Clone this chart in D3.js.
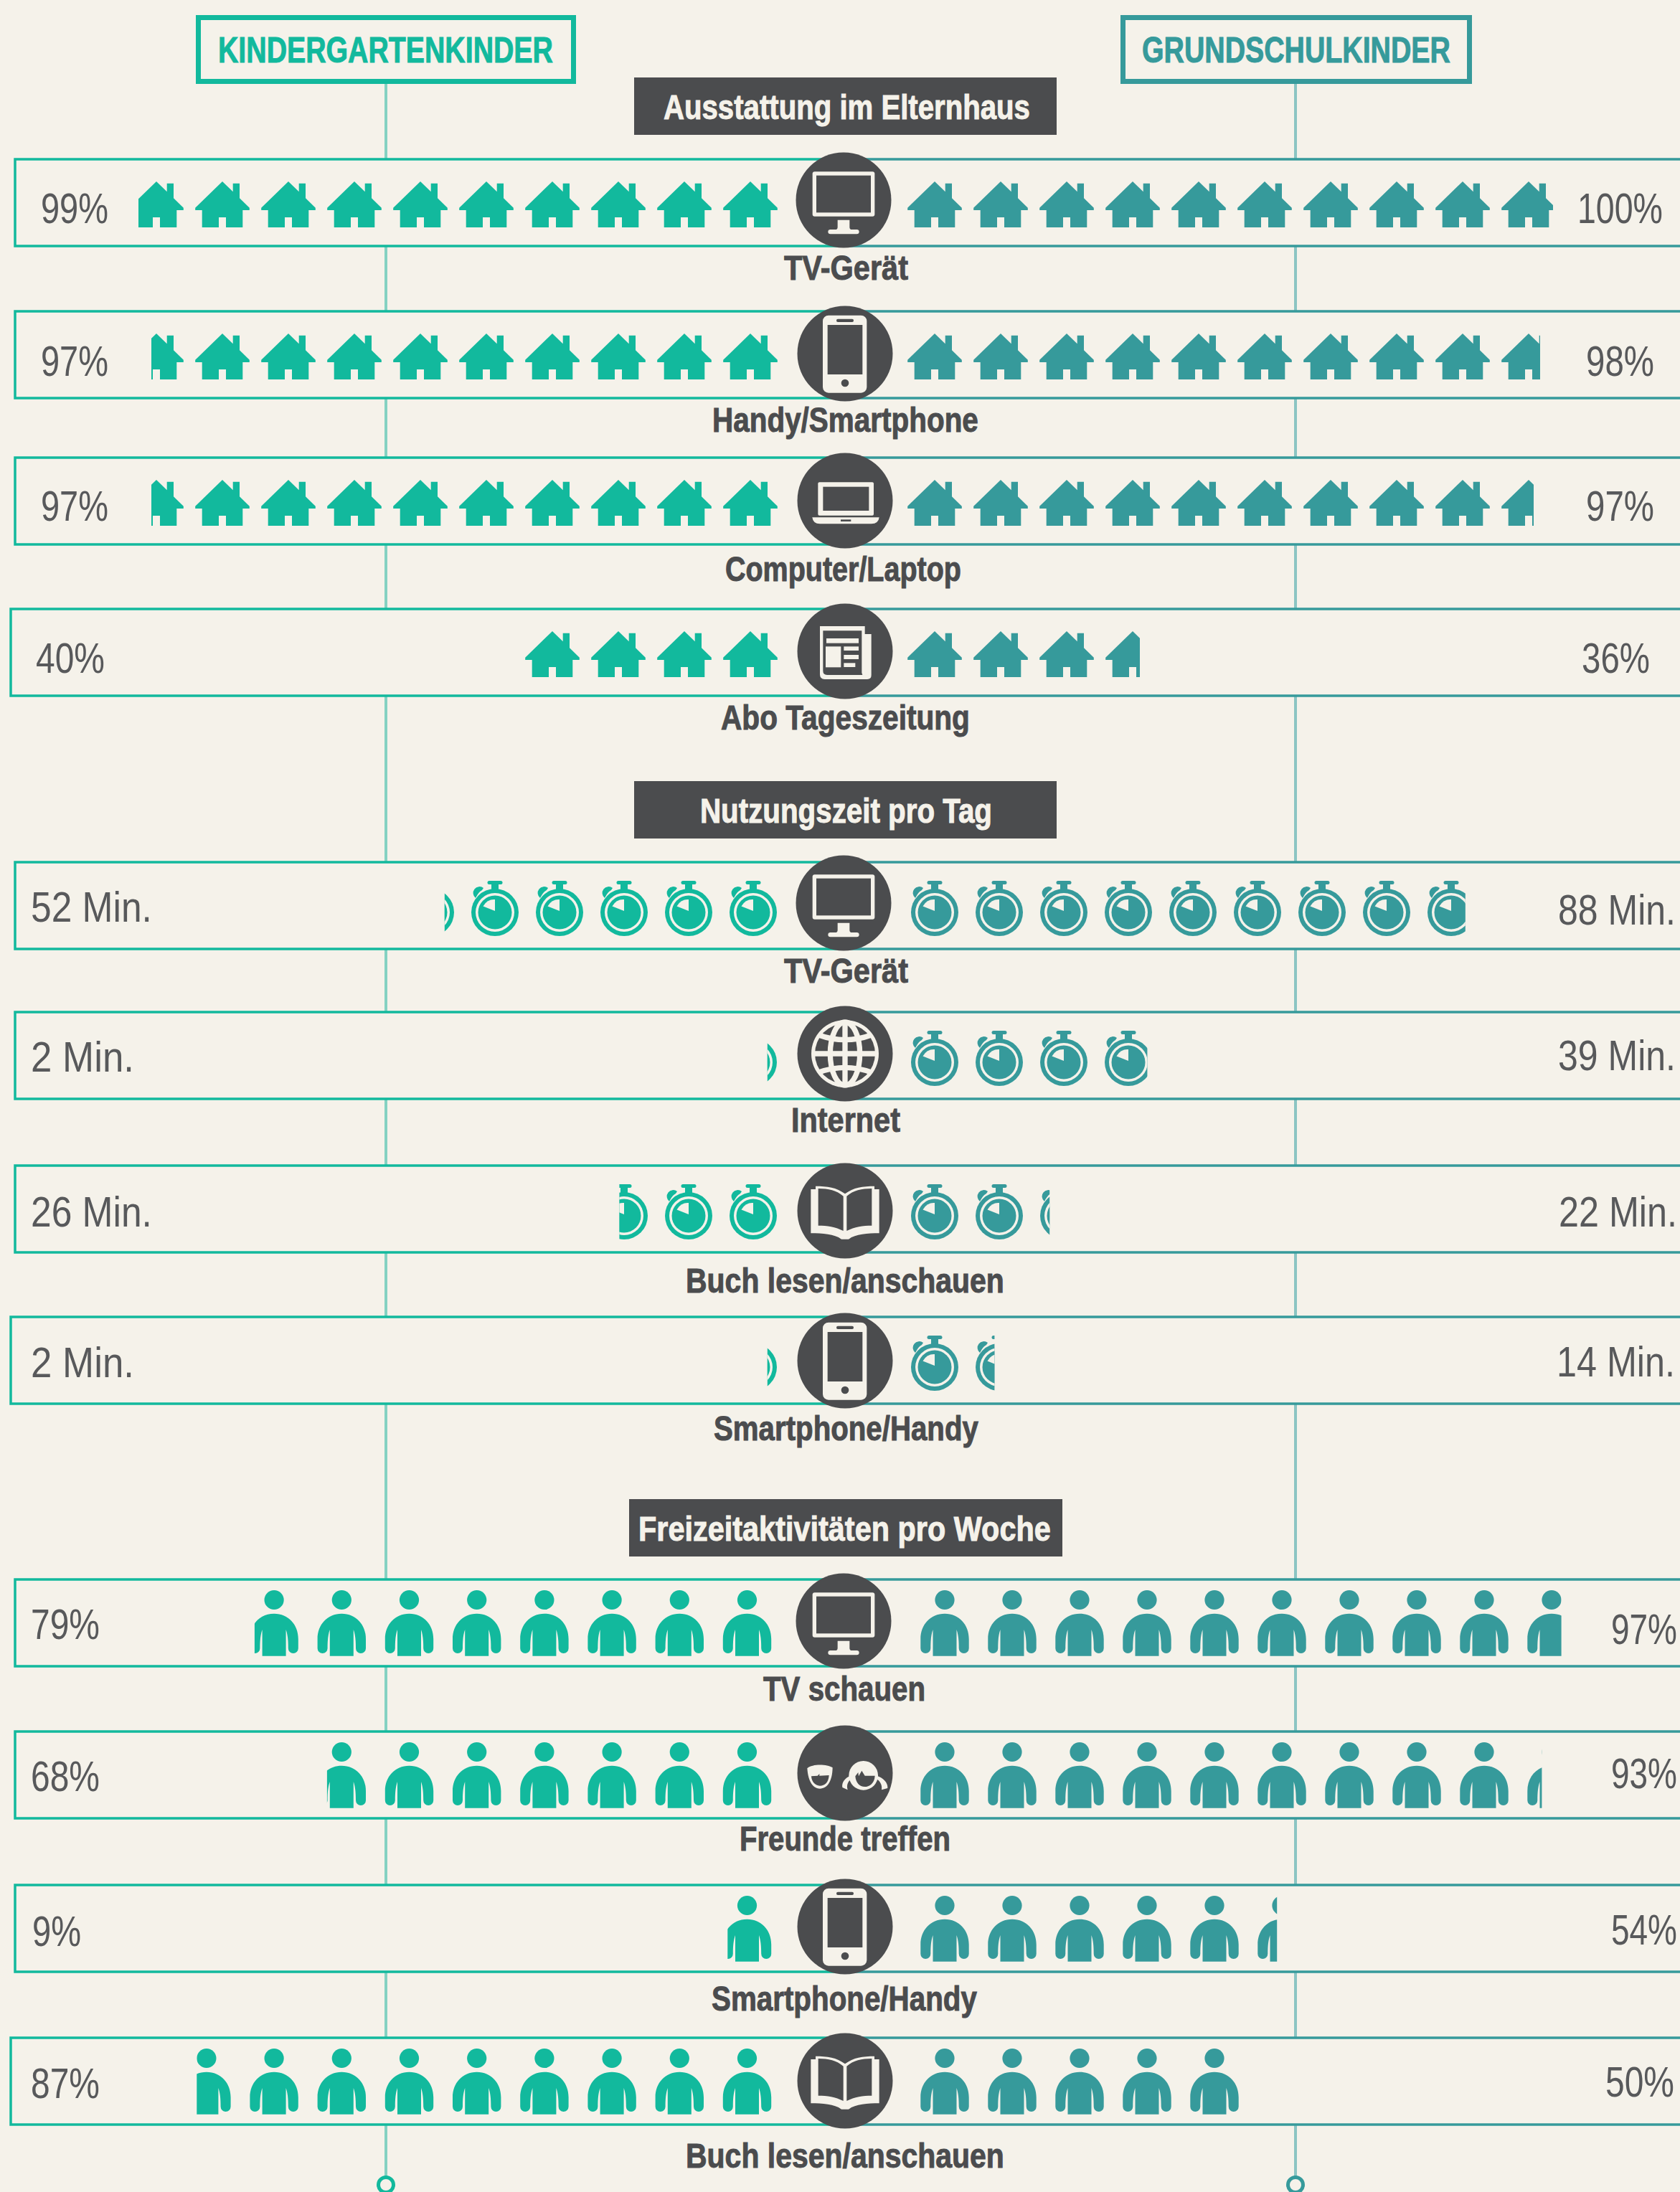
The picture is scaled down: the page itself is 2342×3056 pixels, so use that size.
<!DOCTYPE html>
<html>
<head>
<meta charset="utf-8">
<title>Kindergartenkinder / Grundschulkinder</title>
<script src="https://d3js.org/d3.v7.min.js"></script>
<style>
  body { margin: 0; background: #f5f2ea; }
  text { font-family: "Liberation Sans Narrow", "Liberation Sans", sans-serif; }
</style>
</head>
<body>
<div id="chart"></div>
<script>
// values
const rowLabels = ["TV-Gerät", "Handy/Smartphone", "Computer/Laptop", "Abo Tageszeitung",
  "TV-Gerät", "Internet", "Buch lesen/anschauen", "Smartphone/Handy",
  "TV schauen", "Freunde treffen", "Smartphone/Handy", "Buch lesen/anschauen"];
const kitaValues = [99, 97, 97, 40, 52, 2, 26, 2, 79, 68, 9, 87];
const schoolValues = [100, 98, 97, 36, 88, 39, 22, 14, 97, 93, 54, 50];
const rowUnits = ["%", "%", "%", "%", " Min.", " Min.", " Min.", " Min.", "%", "%", "%", "%"];
const rowIcons = ["tv", "phone", "laptop", "paper", "tv", "globe", "book", "phone", "tv", "faces", "phone", "book"];
const rowKinds = ["house", "house", "house", "house", "timer", "timer", "timer", "timer", "person", "person", "person", "person"];
const sectionTitles = ["Ausstattung im Elternhaus", "Nutzungszeit pro Tag", "Freizeitaktivitäten pro Woche"];
const groupTitles = ["KINDERGARTENKINDER", "GRUNDSCHULKINDER"];

// layout
const width = 2342, height = 3056;
const bg = "#f5f2ea", dark = "#4b4c4e", grey = "#58595b";
const teal = "#12b99d", blue = "#369a9b";
const rows = d3.range(rowLabels.length);
const lookup = (range) => d3.scaleOrdinal().domain(rows).range(range);

const boxTop = lookup([222, 434, 638, 849, 1202, 1411, 1625, 1836, 2202, 2414, 2628, 2841]);
const boxLeft = lookup([21, 21, 21, 15, 21, 21, 21, 15, 21, 21, 21, 15]);
const circleX = lookup([1176, 1178, 1178, 1178, 1176, 1178, 1178, 1178, 1176, 1178, 1178, 1178]);
const circleY = lookup([279, 493, 698, 908, 1259, 1469, 1688, 1897, 2260, 2472, 2686, 2901]);
const labelBase = lookup([390, 602, 810, 1017, 1370, 1578, 1802, 2008, 2371, 2580, 2803, 3022]);
const labelSpan = lookup([[1093, 1266], [993, 1364], [1011, 1340], [1005, 1352], [1093, 1266], [1103, 1255],
  [956, 1400], [995, 1364], [1064, 1290], [1031, 1325], [992, 1362], [956, 1400]]);
const leftBase = lookup([311, 524, 726, 938, 1285, 1494, 1710, 1920, 2285, 2497, 2713, 2925]);
const rightBase = lookup([311, 524, 726, 938, 1289, 1492, 1710, 1919, 2292, 2493, 2711, 2923]);
const leftSpan = lookup([[57, 151], [57, 151], [57, 151], [50, 146], [43, 212], [43, 187], [43, 212], [43, 187],
  [43, 139], [43, 139], [45, 113], [43, 139]]);
const rightSpan = lookup([[2199, 2318], [2211, 2306], [2211, 2306], [2205, 2300], [2172, 2336], [2172, 2336],
  [2173, 2338], [2170, 2335], [2246, 2338], [2246, 2338], [2246, 2338], [2238, 2334]]);

const kinds = {
  house: { unit: 10, w: 76, dy: 31, linear: true,
    left: d3.scaleLinear().domain([0, 1]).range([1046, 954]),
    right: d3.scaleLinear().domain([0, 1]).range([1303, 1395]),
    leftVal: d3.scaleLinear().domain([0, 100]).range([1084, 184]),
    rightVal: d3.scaleLinear().domain([0, 100]).range([1265, 2165]) },
  timer: { unit: 10, w: 66, dy: 26,
    left: d3.scaleLinear().domain([0, 1]).range([1050, 960]),
    right: d3.scaleLinear().domain([0, 1]).range([1303, 1393]) },
  person: { unit: 10, w: 68, dy: 15,
    left: d3.scaleLinear().domain([0, 1]).range([1041.5, 947.3]),
    right: d3.scaleLinear().domain([0, 1]).range([1317, 1411]) },
};

const houseD = "M0,0 L14.7,14.3 V2.7 H24 V23.3 L37.8,36.7 V40 H28.3 V64 H5 V50 H-5 V64 H-28.3 V40 H-37.8 V36.7 Z";
const personD = "M0,32.7 C20,32.7 33.7,48 33.7,68 V81 A7,7 0 0 1 19.7,81 C19.7,70 19,62 16.5,55 V91.7 H-16.5 V55 " +
  "C-19,62 -19.7,70 -19.7,81 A7,7 0 0 1 -33.7,81 V68 C-33.7,48 -20,32.7 0,32.7 Z";

const svg = d3.select("#chart").append("svg")
  .attr("width", width).attr("height", height)
  .style("display", "block");
svg.append("rect").attr("width", width).attr("height", height).attr("fill", bg);
const defs = svg.append("defs");

// the fonts here are wider than the print face, so squeeze each text to its span
function fitText(str, x0, x1, y, size, color, bold) {
  const t = svg.append("text").attr("font-size", size).attr("fill", color).text(str);
  if (bold) t.attr("font-weight", 700).attr("stroke", color).attr("stroke-width", 1);
  const sx = (x1 - x0) / t.node().getComputedTextLength();
  t.attr("transform", `translate(${x0},${y}) scale(${sx},1)`);
  return t;
}

// vertical connector lines with the end rings
[[538, "#85d2c2", teal], [1806, "#8cc5c3", blue]].forEach(([x, c, ring]) => {
  svg.append("line").attr("x1", x).attr("x2", x).attr("y1", 110).attr("y2", 3036)
    .attr("stroke", c).attr("stroke-width", 4);
  svg.append("circle").attr("cx", x).attr("cy", 3046).attr("r", 10.5)
    .attr("fill", bg).attr("stroke", ring).attr("stroke-width", 5);
});

// top boxes
[[273, 530, teal, 304, 467], [1562, 490, blue, 1592, 430]].forEach(([x, w, c, tx, tw], i) => {
  svg.append("rect").attr("x", x + 3.5).attr("y", 24.5).attr("width", w - 7).attr("height", 89)
    .attr("fill", bg).attr("stroke", c).attr("stroke-width", 7);
  fitText(groupTitles[i], tx, tx + tw, 87, 50, c, true);
});

// dark section bars
[[884, 108, 589, 925, 511], [884, 1089, 589, 976, 407], [877, 2090, 604, 890, 575]].forEach(([x, y, w, tx, tw], i) => {
  svg.append("rect").attr("x", x).attr("y", y).attr("width", w).attr("height", 80).attr("fill", dark);
  fitText(sectionTitles[i], tx, tx + tw, y + 58, 48, bg, true);
});

// one icon of the value rows
function drawUnit(g, kind, cx, top, color) {
  const u = g.append("g").attr("transform", `translate(${cx},${top})`).attr("fill", color);
  if (kind === "house") {
    u.append("path").attr("d", houseD);
  } else if (kind === "person") {
    u.append("circle").attr("cy", 13.5).attr("r", 13.6);
    u.append("path").attr("d", personD);
  } else {
    u.append("rect").attr("x", -10.5).attr("y", 0).attr("width", 21).attr("height", 5).attr("rx", 2.5);
    u.append("rect").attr("x", -5).attr("y", 3).attr("width", 10).attr("height", 10);
    u.append("path").attr("d", "M-27,24 A5.5,5.5 0 0 1 -16,10 L-18,13 C-22,15 -25,20 -27,24 Z");
    u.append("circle").attr("cy", 44).attr("r", 33);
    u.append("circle").attr("cy", 44).attr("r", 27).attr("fill", bg);
    u.append("circle").attr("cy", 44).attr("r", 23.5);
    u.append("path").attr("d", "M0,42 V26 A16.5,16.5 0 0 0 -16.5,35.5 Z").attr("fill", bg);
  }
}

// one side of a row: count of icons, last one clipped to the value
function drawSide(i, side, value, color) {
  const k = kinds[rowKinds[i]];
  const pos = k[side];
  const n = Math.ceil(value / k.unit);
  const frac = value / k.unit - (n - 1);
  const dir = side === "left" ? -1 : 1;
  const last = pos(n - 1);
  const edge = k.linear ? k[side + "Val"](value) : last + dir * (frac * k.w - k.w / 2);
  const id = `clip-${side}-${i}`;
  const top = boxTop(i) + k.dy;
  defs.append("clipPath").attr("id", id).append("rect")
    .attr("x", side === "left" ? edge : pos(0) - k.w)
    .attr("y", top - 5)
    .attr("width", side === "left" ? pos(0) + k.w - edge : edge - pos(0) + k.w)
    .attr("height", 110);
  const g = svg.append("g").attr("clip-path", `url(#${id})`);
  d3.range(n).forEach((j) => drawUnit(g, rowKinds[i], pos(j), top, color));
}

// center icons, coordinates in 3x px around the circle center
const iconDraw = {
  tv(g) {
    g.append("rect").attr("x", -130).attr("y", -119).attr("width", 260).attr("height", 187).attr("rx", 9).attr("fill", bg);
    g.append("rect").attr("x", -114).attr("y", -103).attr("width", 228).attr("height", 155).attr("fill", dark);
    g.append("path").attr("fill", bg)
      .attr("d", "M-25,83 H25 V113 Q25,123 35,123 H55 Q65,123 65,132 Q65,142 55,142 H-55 Q-65,142 -65,132 Q-65,123 -55,123 H-35 Q-25,123 -25,113 Z");
  },
  phone(g) {
    g.append("rect").attr("x", -93).attr("y", -160).attr("width", 184).attr("height", 324).attr("rx", 24).attr("fill", bg);
    g.append("rect").attr("x", -73).attr("y", -120).attr("width", 146).attr("height", 207).attr("fill", dark);
    g.append("rect").attr("x", -36).attr("y", -145).attr("width", 72).attr("height", 13).attr("rx", 6).attr("fill", dark);
    g.append("circle").attr("cy", 123).attr("r", 16).attr("fill", dark);
  },
  laptop(g) {
    g.append("rect").attr("x", -113).attr("y", -77).attr("width", 233).attr("height", 139).attr("rx", 6).attr("fill", bg);
    g.append("rect").attr("x", -92).attr("y", -58).attr("width", 192).attr("height", 100).attr("fill", dark);
    g.append("path").attr("fill", bg).attr("d", "M-137,70 H143 Q140,97 110,97 H-105 Q-134,97 -137,70 Z");
    g.append("rect").attr("x", -18).attr("y", 79).attr("width", 43).attr("height", 8).attr("fill", dark);
  },
  paper(g) {
    g.append("path").attr("fill", bg).attr("d", "M-105,-105 H83 V-72 H110 V100 Q110,117 93,117 H-85 Q-105,117 -105,97 Z");
    g.append("path").attr("fill", dark).attr("d", "M-92,-86 H70 V90 L73,99 H-75 Q-92,99 -92,82 Z");
    [[-78, -54, 135, 20], [-81, -20, 64, 87], [-5, -20, 62, 17], [-5, 15, 62, 18], [-5, 49, 48, 17]].forEach(([x, y, w, h]) => {
      g.append("rect").attr("x", x).attr("y", y).attr("width", w).attr("height", h).attr("fill", bg);
    });
  },
  globe(g) {
    g.append("circle").attr("r", 141).attr("fill", bg);
    g.append("circle").attr("r", 126).attr("fill", dark);
    const l = g.append("g").attr("fill", "none").attr("stroke", bg).attr("stroke-width", 22);
    l.append("line").attr("y1", -130).attr("y2", 130);
    l.append("line").attr("x1", -130).attr("x2", 130);
    l.append("ellipse").attr("rx", 62).attr("ry", 132);
    l.append("path").attr("d", "M-110,-78 Q0,-38 110,-78");
    l.append("path").attr("d", "M-110,78 Q0,38 110,78");
  },
  book(g) {
    g.append("path").attr("fill", bg)
      .attr("d", "M-143,-90 H-123 V-103 C-75,-103 -35,-98 0,-71 C35,-98 75,-103 123,-103 V-90 H143 V94 C95,94 45,97 15,119 H-15 C-45,97 -95,94 -143,94 Z");
    g.append("path").attr("fill", dark).attr("d", "M-112,-93 C-70,-93 -35,-85 -7,-61 V84 C-40,67 -75,62 -112,62 Z");
    g.append("path").attr("fill", dark).attr("d", "M7,-61 C35,-85 70,-93 112,-93 V62 C75,62 40,67 7,84 Z");
  },
  faces(g) {
    g.append("path").attr("fill", bg).attr("d", "M-158,-20 C-135,-40 -75,-37 -52,-23 C-53,35 -75,65 -105,65 C-140,65 -155,25 -158,-20 Z");
    g.append("path").attr("fill", dark).attr("d", "M-141,13 L-115,11 L-107,3 L-107,11 L-67,9 C-69,40 -85,53 -105,53 C-125,53 -140,35 -141,13 Z");
    g.append("circle").attr("cx", 77).attr("cy", 10).attr("r", 61).attr("fill", bg);
    g.append("path").attr("fill", bg).attr("d", "M25,10 C0,20 -15,40 -11,60 L11,70 C5,50 13,30 30,25 Z");
    g.append("path").attr("fill", bg).attr("d", "M130,10 C160,20 180,40 178,63 L153,70 C157,50 145,30 130,25 Z");
    g.append("path").attr("fill", dark).attr("d", "M43,13 L55,-3 L57,13 L70,-10 L83,11 L125,11 C123,45 100,57 83,57 C60,57 45,40 43,13 Z");
  },
};

rows.forEach((i) => {
  const y0 = boxTop(i), y1 = y0 + 121, x0 = boxLeft(i), cx = circleX(i), cy = circleY(i);

  // row box: green part up to the circle, blue part runs off the page
  svg.append("rect").attr("x", x0).attr("y", y0).attr("width", width - x0).attr("height", 121).attr("fill", bg);
  svg.append("path").attr("fill", "none").attr("stroke", teal).attr("stroke-width", 3.5)
    .attr("d", `M${cx},${y0} H${x0} V${y1} H${cx}`);
  svg.append("path").attr("fill", "none").attr("stroke", blue).attr("stroke-width", 3.5)
    .attr("d", `M${cx},${y0} H${width} M${cx},${y1} H${width}`);

  drawSide(i, "left", kitaValues[i], teal);
  drawSide(i, "right", schoolValues[i], blue);

  svg.append("circle").attr("cx", cx).attr("cy", cy).attr("r", 66.5).attr("fill", dark);
  const ic = svg.append("g").attr("transform", `translate(${cx},${cy}) scale(${1 / 3})`);
  iconDraw[rowIcons[i]](ic);

  const ls = labelSpan(i);
  fitText(rowLabels[i], ls[0], ls[1], labelBase(i), 48, dark, true);

  const a = leftSpan(i), b = rightSpan(i);
  fitText(kitaValues[i] + rowUnits[i], a[0], a[1], leftBase(i), 60, grey, false);
  fitText(schoolValues[i] + rowUnits[i], b[0], b[1], rightBase(i), 60, grey, false);
});
</script>
</body>
</html>
